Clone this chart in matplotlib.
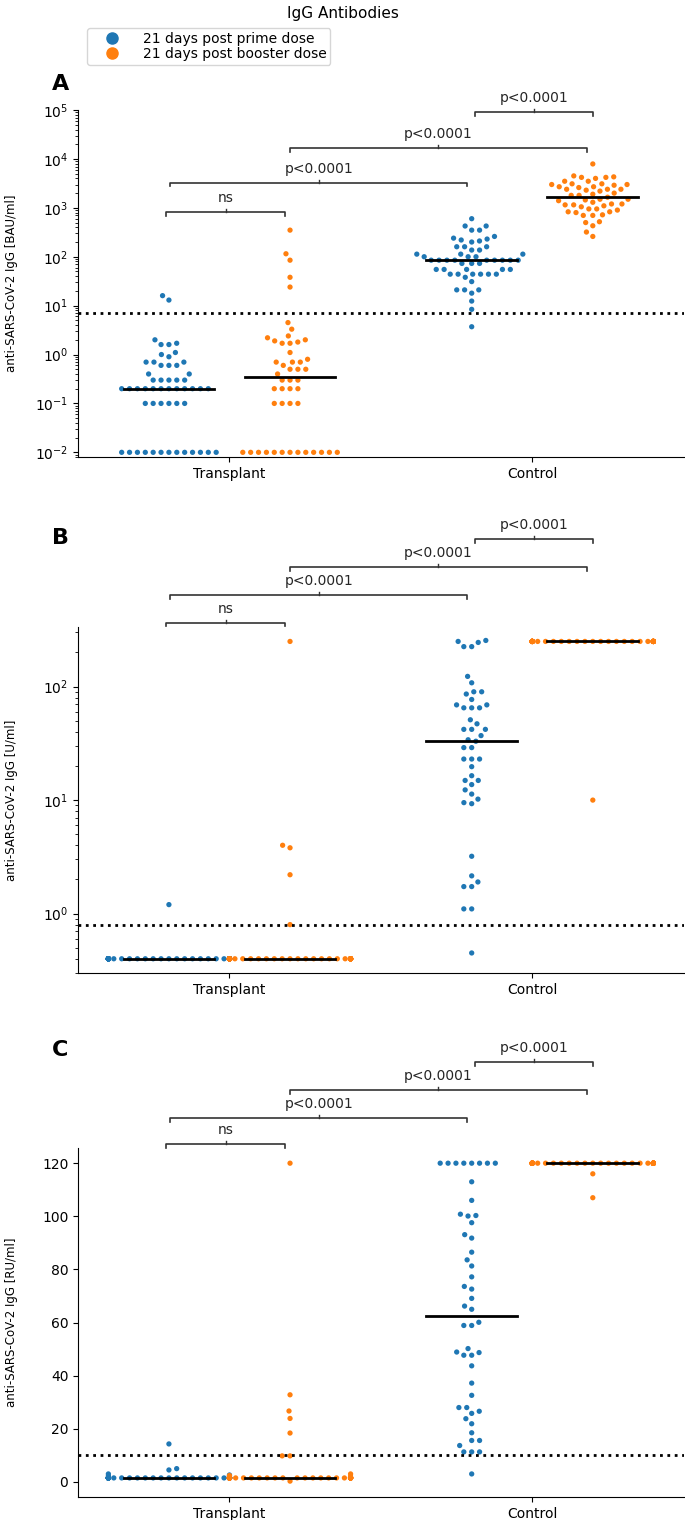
import numpy as np
import pandas as pd
import seaborn as sns
import seaborn.categorical as sc
import matplotlib
matplotlib.use("Agg")
from matplotlib import pyplot as plt
from matplotlib.lines import Line2D

groups = ["Transplant", "Control"]
doses = ["21 days post prime dose", "21 days post booster dose"]
colors = ["#1f77b4", "#ff7f0e"]

# panel A - BAU/ml (log)
a_tx_prime = [16, 13, 2.0, 1.7, 1.6, 1.6, 1.1, 1.0, 0.9, 0.7, 0.7, 0.7, 0.6, 0.6, 0.6,
              0.4, 0.4] + [0.3] * 5 + [0.2] * 12 + [0.1] * 6 + [0.01] * 13
a_tx_boost = [350, 115, 85, 38, 24, 4.5, 3.3, 2.4, 2.2, 2.0, 1.9, 1.8, 1.7, 1.7, 1.1, 0.8,
              0.7, 0.7, 0.7, 0.6, 0.5, 0.5, 0.5, 0.4, 0.3, 0.3, 0.3] + [0.2] * 4 + [0.1] * 4 + [0.01] * 13
a_ct_prime = [600, 425, 425, 350, 350, 260, 240, 230, 220, 210, 200, 160, 160, 160, 137, 137,
              113, 113, 113, 100, 100, 100, 85, 85, 85, 85, 85, 85, 85, 85, 85, 73, 73, 73,
              55, 55, 55, 55, 55, 44, 44, 44, 44, 44, 44, 38, 31, 21, 21, 21, 18, 12.4, 8.4, 3.7]
a_ct_boost = [7900, 4500, 4300, 4200, 4200, 4000, 3500, 3500, 3100, 3100, 3000, 3000, 2900,
              2700, 2700, 2600, 2400, 2400, 2400, 2300, 2200, 2000, 1900, 1800, 1800, 1650,
              1500, 1500, 1450, 1400, 1300, 1200, 1200, 1150, 1150, 1100, 1050, 950, 950, 900,
              830, 830, 800, 720, 700, 700, 520, 500, 430, 320, 260]
a_cutoff = 7.1

# panel B - U/ml (log)
b_tx_prime = [1.2] + [0.4] * 52
b_tx_boost = [250, 4.0, 3.8, 2.2, 0.8] + [0.4] * 43
b_ct_prime = [255, 250, 245, 225, 225, 123, 108, 90, 90, 86, 77, 69, 69, 65, 65, 65, 51, 47,
              42, 42, 42, 37, 34, 33, 29, 29, 23, 23, 23, 19.7, 16.4, 14.9, 14.9, 13.7, 12.3,
              11.3, 10.2, 9.5, 9.3, 3.2, 2.15, 1.9, 1.73, 1.73, 1.1, 1.1, 0.45]
b_ct_boost = [250] * 49 + [10]
b_cutoff = 0.8

# panel C - RU/ml (linear)
c_tx_prime = [14.3, 5.0, 4.5, 3.0, 2.6, 2.2, 2.0] + [1.5] * 46
c_tx_boost = [120, 32.8, 26.7, 23.9, 18.4, 9.8, 9.8, 3.0, 2.4, 2.0, 0.3] + [1.5] * 37
c_ct_prime = [120] * 8 + [113, 106, 100.8, 100.3, 100.1, 97.6, 93.1, 91.8, 86.5, 83.6, 81.3,
                          77.2, 73.6, 72.6, 69.1, 66.2, 65.0, 60.1, 58.9, 58.9, 50.2, 48.9, 48.7,
                          47.7, 47.7, 43.7, 37.2, 32.6, 28.0, 28.0, 26.6, 25.8, 23.8, 21.9, 18.5,
                          15.6, 15.6, 13.7, 11.3, 11.3, 11.3, 3.0]
c_ct_boost = [120] * 48 + [116, 107]
c_cutoff = 10

pvals = ["ns", "p<0.0001", "p<0.0001", "p<0.0001"]


# newer seaborn keeps the full 0.8 gutter when dodging; split it per hue like the old one did
class HalfBeeswarm(sc.Beeswarm):
    def __init__(self, orient="x", width=0.8, warn_thresh=0.05):
        super().__init__(orient=orient, width=width / 2, warn_thresh=warn_thresh)


sc.Beeswarm = HalfBeeswarm


def frame(tx_prime, tx_boost, ct_prime, ct_boost):
    rows = []
    for g, d, vals in [(groups[0], doses[0], tx_prime), (groups[0], doses[1], tx_boost),
                       (groups[1], doses[0], ct_prime), (groups[1], doses[1], ct_boost)]:
        rows += [(g, d, v) for v in vals]
    return pd.DataFrame(rows, columns=["group", "dose", "value"])


def bracket(ax, x1, x2, yf, label):
    tr = ax.get_xaxis_transform()
    ax.plot([x1, x1, x2, x2], [yf - 0.01, yf, yf, yf - 0.01], color="0.2", lw=1.2,
            transform=tr, clip_on=False)
    xm = (x1 + x2) / 2
    ax.plot([xm, xm], [yf, yf + 0.008], color="0.2", lw=1.0, transform=tr, clip_on=False)
    ax.annotate(label, (xm, yf), xycoords=tr, xytext=(0, 5), textcoords="offset points",
                ha="center", va="bottom", fontsize=10, color="0.15")


fig = plt.figure(figsize=(6.85, 15.2), dpi=100)
axA = fig.add_axes([0.114, 0.6993, 0.884, 0.2283])
axB = fig.add_axes([0.114, 0.3599, 0.884, 0.2276])
axC = fig.add_axes([0.114, 0.0151, 0.884, 0.2296])

panels = [
    (axA, frame(a_tx_prime, a_tx_boost, a_ct_prime, a_ct_boost), a_cutoff, True,
     (0.008, 1e5), "anti-SARS-CoV-2 IgG [BAU/ml]", [0.706, 0.790, 0.890, 0.994]),
    (axB, frame(b_tx_prime, b_tx_boost, b_ct_prime, b_ct_boost), b_cutoff, True,
     (0.3, 335), "anti-SARS-CoV-2 IgG [U/ml]", [1.012, 1.092, 1.173, 1.254]),
    (axC, frame(c_tx_prime, c_tx_boost, c_ct_prime, c_ct_boost), c_cutoff, False,
     (-5.7, 125.7), "anti-SARS-CoV-2 IgG [RU/ml]", [1.011, 1.086, 1.166, 1.246]),
]

for ax, df, cut, logy, ylim, ylabel, levels in panels:
    if logy:
        ax.set_yscale("log")
    sns.swarmplot(data=df, x="group", y="value", hue="dose", order=groups, hue_order=doses,
                  palette=colors, dodge=True, size=3.8, linewidth=1.6, edgecolor="none",
                  legend=False, warn_thresh=1, ax=ax)
    ax.set_xlim(-0.5, 1.5)
    ax.set_ylim(*ylim)
    for i, g in enumerate(groups):
        for j, d in enumerate(doses):
            pos = i + (j - 0.5) * 0.4
            med = df[(df.group == g) & (df.dose == d)].value.median()
            ax.plot([pos - 0.15, pos + 0.15], [med, med], color="k", lw=2, zorder=5)
    ax.axhline(cut, color="k", ls=":", lw=2, zorder=4)
    pos = [-0.2, 0.2, 0.8, 1.2]
    bracket(ax, pos[0] - 0.01, pos[1] - 0.015, levels[0], pvals[0])
    bracket(ax, pos[0] + 0.005, pos[2] - 0.015, levels[1], pvals[1])
    bracket(ax, pos[1], pos[3] - 0.02, levels[2], pvals[2])
    bracket(ax, pos[2] + 0.01, pos[3], levels[3], pvals[3])
    ax.set_xlabel("")
    ax.set_ylabel(ylabel, fontsize=8.5)
    ax.yaxis.set_label_coords(-0.1, 0.5)
    ax.tick_params(labelsize=10)
    ax.spines["top"].set_visible(False)
    ax.spines["right"].set_visible(False)

axC.set_yticks(range(0, 121, 20))

for letter, y in zip("ABC", [0.945, 0.646, 0.309]):
    fig.text(0.088, y, letter, fontsize=16, fontweight="bold", ha="center", va="center")

fig.suptitle("IgG Antibodies", y=0.996, fontsize=11)
handles = [Line2D([], [], marker="o", ls="", color=c, markersize=8) for c in colors]
fig.legend(handles, doses, loc="upper left", bbox_to_anchor=(0.127, 0.9816), fontsize=10,
           borderaxespad=0, borderpad=0.3, labelspacing=0.05, handletextpad=0.7,
           handlelength=3.0)

fig.savefig("out.png", dpi=100)
